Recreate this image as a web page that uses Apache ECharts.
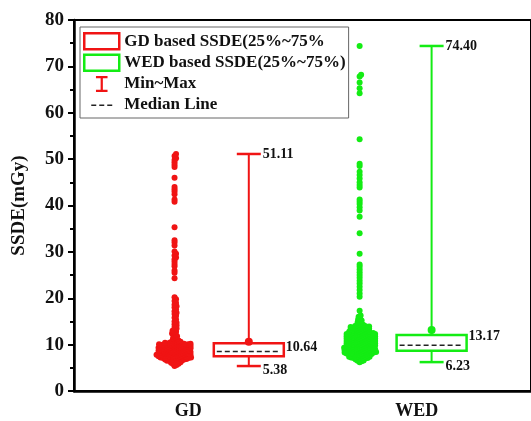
<!DOCTYPE html>
<html>
<head>
<meta charset="utf-8">
<script src="https://cdn.jsdelivr.net/npm/echarts@6/dist/echarts.min.js"></script>
<style>
  html, body { margin: 0; padding: 0; background: #fff; }
  #main { width: 531px; height: 421px; }
</style>
</head>
<body>
<div id="main"></div>
<script>
// categories and legend names
const categories = ['GD', 'WED'];
const boxNames = ['GD based SSDE(25%~75%', 'WED based SSDE(25%~75%)'];

// box statistics
const minVals = [5.38, 6.23];
const q1Vals = [7.5, 8.7];
const medianVals = [8.5, 9.85];
const q3Vals = [10.3, 12.1];
const maxVals = [51.11, 74.40];
const meanVals = [10.64, 13.17];

// individual SSDE points (mGy)
const gdPoints = [
  51.1, 50.7, 50.2, 49.8, 49.3, 48.8, 48.3, 46.0, 44.0, 43.5, 43.0, 42.4, 41.3, 40.8,
  35.3, 32.5, 32.0, 31.4, 30.1, 29.6, 29.2, 28.8, 28.4, 27.9, 27.4, 26.9, 26.0, 25.5, 24.3,
  20.2, 19.8, 19.4, 19.0, 18.6, 18.3, 18.0, 17.6, 17.2, 16.9, 16.6, 16.2, 15.8, 15.4,
  15.0, 14.7, 14.4, 14.1, 13.8, 13.5, 13.3, 13.0, 12.8, 12.6, 12.4, 12.2, 12.0, 11.8,
  11.6, 11.4, 11.2, 11.0, 10.9, 10.8, 10.7, 10.6, 10.5, 10.5, 10.4, 10.4, 10.3, 10.3,
  10.2, 10.2, 10.2, 10.1, 10.1, 10.1, 10.0, 10.0, 10.0, 9.9, 9.9, 9.9, 9.8, 9.8, 9.8,
  9.7, 9.7, 9.7, 9.6, 9.6, 9.6, 9.5, 9.5, 9.5, 9.4, 9.4, 9.4, 9.3, 9.3, 9.3,
  9.2, 9.2, 9.2, 9.1, 9.1, 9.1, 9.0, 9.0, 9.0, 8.9, 8.9, 8.9, 8.8, 8.8, 8.8,
  8.7, 8.7, 8.7, 8.6, 8.6, 8.6, 8.5, 8.5, 8.5, 8.4, 8.4, 8.4, 8.3, 8.3, 8.3,
  8.2, 8.2, 8.2, 8.1, 8.1, 8.1, 8.0, 8.0, 8.0, 7.9, 7.9, 7.9, 7.8, 7.8, 7.8,
  7.7, 7.7, 7.7, 7.6, 7.6, 7.6, 7.5, 7.5, 7.5, 7.4, 7.4, 7.4, 7.3, 7.3, 7.3,
  7.2, 7.2, 7.2, 7.1, 7.1, 7.1, 7.0, 7.0, 7.0, 6.9, 6.9, 6.8, 6.8, 6.7, 6.7,
  6.6, 6.6, 6.5, 6.5, 6.4, 6.3, 6.2, 6.1, 6.0, 5.9, 5.8, 5.6, 5.4
];
const wedPoints = [
  74.4, 68.2, 67.8, 66.5, 65.3, 64.2, 54.3, 49.0, 48.5, 47.3, 46.6, 45.8, 45.0, 44.4,
  43.9, 41.3, 40.8, 40.3, 39.6, 38.9, 37.6, 34.0, 29.6, 27.3, 26.8, 26.2, 25.6, 25.0,
  24.4, 23.8, 23.2, 22.5, 21.8, 21.0, 20.3, 17.3, 16.3, 16.0,
  15.6, 15.4, 15.2, 15.0, 14.8, 14.6, 14.4, 14.3, 14.2, 14.1, 14.0, 14.0,
  13.9, 13.9, 13.8, 13.8, 13.7, 13.7, 13.6, 13.6, 13.5, 13.5, 13.4, 13.4, 13.3, 13.3,
  13.2, 13.2, 13.1, 13.1, 13.0, 13.0, 12.9, 12.9, 12.8, 12.8, 12.7, 12.7, 12.6, 12.6,
  12.5, 12.5, 12.5, 12.4, 12.4, 12.4, 12.3, 12.3, 12.3, 12.2, 12.2, 12.2, 12.1, 12.1, 12.1,
  12.0, 12.0, 12.0, 11.9, 11.9, 11.9, 11.8, 11.8, 11.8, 11.7, 11.7, 11.7, 11.6, 11.6, 11.6,
  11.5, 11.5, 11.5, 11.4, 11.4, 11.4, 11.3, 11.3, 11.3, 11.2, 11.2, 11.2, 11.1, 11.1, 11.1,
  11.0, 11.0, 11.0, 10.9, 10.9, 10.9, 10.8, 10.8, 10.8, 10.7, 10.7, 10.7, 10.6, 10.6, 10.6,
  10.5, 10.5, 10.5, 10.4, 10.4, 10.4, 10.3, 10.3, 10.3, 10.2, 10.2, 10.2, 10.1, 10.1, 10.1,
  10.0, 10.0, 10.0, 9.9, 9.9, 9.9, 9.8, 9.8, 9.8, 9.7, 9.7, 9.7, 9.6, 9.6, 9.6,
  9.5, 9.5, 9.5, 9.4, 9.4, 9.4, 9.3, 9.3, 9.3, 9.2, 9.2, 9.2, 9.1, 9.1, 9.1,
  9.0, 9.0, 9.0, 8.9, 8.9, 8.9, 8.8, 8.8, 8.8, 8.7, 8.7, 8.7, 8.6, 8.6, 8.6,
  8.5, 8.5, 8.5, 8.4, 8.4, 8.4, 8.3, 8.3, 8.3, 8.2, 8.2, 8.2, 8.1, 8.1, 8.1,
  8.0, 8.0, 8.0, 7.9, 7.9, 7.8, 7.8, 7.7, 7.7, 7.6, 7.6, 7.5, 7.5, 7.4, 7.4,
  7.3, 7.3, 7.2, 7.2, 7.1, 7.1, 7.0, 7.0, 6.9, 6.8, 6.7, 6.6, 6.5, 6.4, 6.2
];

const colors = ['#f01414', '#14ec14'];
// layout on the hidden 0..2 x axis (GD band 0..1, WED band 1..2)
const scatterX = [0.44, 1.25];
const boxX = [0.765, 1.565];
const serif = '"Liberation Serif", "Times New Roman", serif';

const chart = echarts.init(document.getElementById('main'));

const renderBox = (i, api) => {
  const cx = api.coord([api.value(0), 0])[0];
  const y = (k) => api.coord([0, api.value(k)])[1];
  const yMin = y(1), yQ1 = y(2), yMed = y(3), yQ3 = y(4), yMax = y(5), yMean = y(6);
  const c = colors[i];
  const lbl = (x, yy, v) => ({
    type: 'text',
    style: { x: x, y: yy, text: v.toFixed(2), font: 'bold 14px ' + serif, fill: '#111', align: 'left', verticalAlign: 'middle' }
  });
  return {
    type: 'group',
    children: [
      { type: 'line', shape: { x1: cx, y1: yMax, x2: cx, y2: yMin }, style: { stroke: c, lineWidth: 2 } },
      { type: 'line', shape: { x1: cx - 12, y1: yMax, x2: cx + 12, y2: yMax }, style: { stroke: c, lineWidth: 2.5 } },
      { type: 'line', shape: { x1: cx - 12, y1: yMin, x2: cx + 12, y2: yMin }, style: { stroke: c, lineWidth: 2.5 } },
      { type: 'rect', shape: { x: cx - 35, y: yQ3, width: 70, height: yQ1 - yQ3 }, style: { fill: '#fff', stroke: c, lineWidth: 2.5 } },
      { type: 'line', shape: { x1: cx - 32, y1: yMed, x2: cx + 32, y2: yMed }, style: { stroke: '#222', lineWidth: 1.5, lineDash: [5, 3] } },
      { type: 'circle', shape: { cx: cx, cy: yMean, r: 4 }, style: { fill: c } },
      lbl(cx + 14, yMax, maxVals[i]),
      lbl(cx + 37, yMean + 6, meanVals[i]),
      lbl(cx + 14, yMin + 4, minVals[i])
    ]
  };
};

const boxSeries = categories.map((cat, i) => ({
  name: boxNames[i],
  type: 'custom',
  xAxisIndex: 1,
  yAxisIndex: 0,
  itemStyle: { color: colors[i] },
  renderItem: (params, api) => renderBox(i, api),
  encode: { x: 0, y: [1, 2, 3, 4, 5, 6] },
  data: [[boxX[i], minVals[i], q1Vals[i], medianVals[i], q3Vals[i], maxVals[i], meanVals[i]]],
  z: 3
}));

const option = {
  animation: false,
  grid: { left: 74, right: -3, top: 20, bottom: 30, show: true, borderColor: '#000', borderWidth: 2 },
  legend: {
    left: 80,
    top: 27,
    orient: 'vertical',
    selectedMode: false,
    backgroundColor: '#fff',
    borderColor: '#666',
    borderWidth: 1,
    padding: [5, 3, 4, 3],
    itemGap: 3,
    itemWidth: 35,
    itemHeight: 16,
    textStyle: { fontFamily: serif, fontWeight: 'bold', fontSize: 17, lineHeight: 18, color: '#111' },
    data: [
      { name: boxNames[0], icon: 'rect', itemStyle: { color: '#fff', borderColor: colors[0], borderWidth: 2.5 } },
      { name: boxNames[1], icon: 'rect', itemStyle: { color: '#fff', borderColor: colors[1], borderWidth: 2.5 } },
      { name: 'Min~Max', icon: 'path://M0,0h13v2.5h-5.25v13h5.25v2.5h-13v-2.5h5.25v-13h-5.25Z', itemStyle: { color: colors[0] } },
      { name: 'Median Line', icon: 'path://M0,0h0.01v0.01h-0.01Z M0,7.5h5v1.5h-5Z M8,7.5h5v1.5h-5Z M16,7.5h5v1.5h-5Z M0,16h0.01v0.01h-0.01Z', itemStyle: { color: '#222' } }
    ]
  },
  xAxis: [
    {
      type: 'category',
      data: categories,
      axisLine: { lineStyle: { color: '#000', width: 2.5 } },
      axisTick: { alignWithLabel: true, length: 6, lineStyle: { width: 2 } },
      axisLabel: { margin: 11, color: '#111', fontFamily: serif, fontWeight: 'bold', fontSize: 18 },
      splitLine: { show: false }
    },
    { type: 'value', min: 0, max: 2, show: false }
  ],
  yAxis: {
    type: 'value',
    min: 0,
    max: 80,
    interval: 10,
    name: 'SSDE(mGy)',
    nameLocation: 'middle',
    nameGap: 45,
    nameTextStyle: { fontFamily: serif, fontWeight: 'bold', fontSize: 19, color: '#111' },
    axisLine: { show: true, lineStyle: { color: '#000', width: 2.5 } },
    axisTick: { show: true, length: 6, lineStyle: { width: 2 } },
    minorTick: { show: true, splitNumber: 2, length: 4, lineStyle: { color: '#000', width: 2 } },
    axisLabel: { margin: 10, color: '#111', fontFamily: serif, fontWeight: 'bold', fontSize: 19 },
    splitLine: { show: false }
  },
  series: boxSeries.concat([
    { name: 'Min~Max', type: 'line', data: [], itemStyle: { color: colors[0] } },
    { name: 'Median Line', type: 'line', data: [], itemStyle: { color: '#222' } },
    { name: 'GD points', type: 'scatter', xAxisIndex: 1, symbolSize: 6, itemStyle: { color: colors[0], opacity: 1 }, data: [] },
    { name: 'WED points', type: 'scatter', xAxisIndex: 1, symbolSize: 6, itemStyle: { color: colors[1], opacity: 1 }, data: [] }
  ])
};
chart.setOption(option);

// simple beeswarm layout in pixel space, then back to axis units
const unitY = (chart.convertToPixel({ yAxisIndex: 0 }, 0) - chart.convertToPixel({ yAxisIndex: 0 }, 10)) / 10;
const unitX = chart.convertToPixel({ xAxisIndex: 1 }, 1) - chart.convertToPixel({ xAxisIndex: 1 }, 0);
const swarm = (values, center, d) => {
  const placed = [];
  return values.slice().sort((a, b) => a - b).map((v) => {
    const y = v * unitY;
    let best = 0;
    for (let k = 0; k < 600; k++) {
      const dx = (k % 2 ? 1 : -1) * Math.ceil(k / 2) * 0.5;
      const ok = placed.every((p) => Math.abs(p[1] - y) >= d || (p[0] - dx) * (p[0] - dx) + (p[1] - y) * (p[1] - y) >= d * d);
      if (ok) { best = dx; break; }
    }
    placed.push([best, y]);
    return [center + best / unitX, v];
  });
};

chart.setOption({
  series: [
    { name: 'GD points', data: swarm(gdPoints, scatterX[0], 2.2) },
    { name: 'WED points', data: swarm(wedPoints, scatterX[1], 2.2) }
  ]
});
</script>
</body>
</html>
